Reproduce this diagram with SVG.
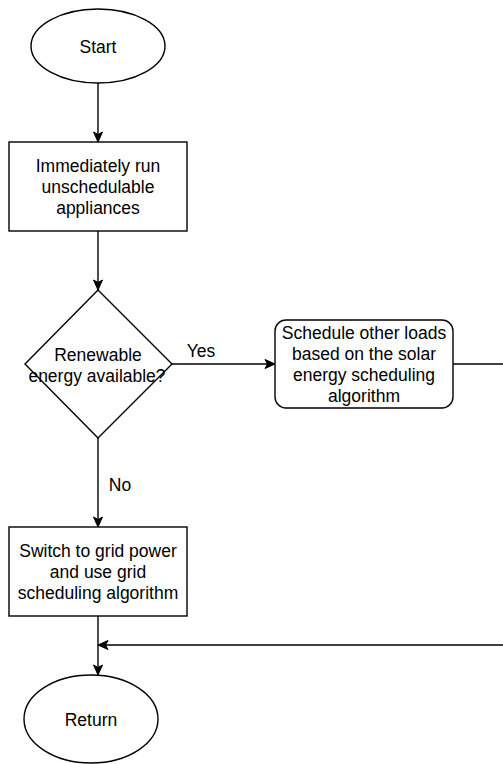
<svg xmlns="http://www.w3.org/2000/svg" width="503" height="764" viewBox="0 0 503 764">
<style>
.s{fill:#fff;stroke:#000;stroke-width:1.4}
.t{font-family:"Liberation Sans",Arial,sans-serif;font-size:17.5px;fill:#000;text-anchor:middle;dominant-baseline:central}
.c{fill:none;stroke:#000;stroke-width:1.4}
</style>
<defs>
<marker id="a" markerUnits="userSpaceOnUse" markerWidth="12" markerHeight="12" viewBox="0 0 12 12" refX="11" refY="6" orient="auto">
<path d="M1,1.5 L11,6 L1,10.5 L3.5,6 Z" fill="#000" stroke="#000" stroke-width="1"/>
</marker>
</defs>
<g id="connectors">
<path class="c" d="M98,83 V142" marker-end="url(#a)"/>
<path class="c" d="M98,231 V290" marker-end="url(#a)"/>
<path class="c" d="M172,364 H275" marker-end="url(#a)"/>
<path class="c" d="M453,364 H503"/>
<path class="c" d="M98,438 V527" marker-end="url(#a)"/>
<path class="c" d="M98,616 V675" marker-end="url(#a)"/>
<path class="c" d="M503,645 H98" marker-end="url(#a)"/>
<text class="t" x="201" y="351">Yes</text>
<text class="t" x="120" y="485">No</text>
</g>
<g id="start">
<ellipse class="s" cx="98" cy="46" rx="67" ry="37"/>
<text class="t" x="98" y="47">Start</text>
</g>
<g id="run">
<rect class="s" x="9" y="142" width="178" height="89"/>
<text class="t" x="98" y="166">Immediately run</text>
<text class="t" x="98" y="187">unschedulable</text>
<text class="t" x="98" y="208">appliances</text>
</g>
<g id="decision">
<path class="s" d="M98,290 L172,364 L98,438 L25,364 Z"/>
<text class="t" x="98" y="354.5">Renewable</text>
<text class="t" x="97" y="375.5">energy available?</text>
</g>
<g id="solar">
<rect class="s" x="275" y="320" width="178" height="88" rx="11" ry="11"/>
<text class="t" x="364" y="333">Schedule other loads</text>
<text class="t" x="364" y="354">based on the solar</text>
<text class="t" x="364" y="375">energy scheduling</text>
<text class="t" x="364" y="396">algorithm</text>
</g>
<g id="grid">
<rect class="s" x="9" y="527" width="178" height="89"/>
<text class="t" x="98" y="551">Switch to grid power</text>
<text class="t" x="98" y="572">and use grid</text>
<text class="t" x="98" y="593">scheduling algorithm</text>
</g>
<g id="return">
<ellipse class="s" cx="91" cy="719" rx="67" ry="44"/>
<text class="t" x="91" y="720">Return</text>
</g>
</svg>
